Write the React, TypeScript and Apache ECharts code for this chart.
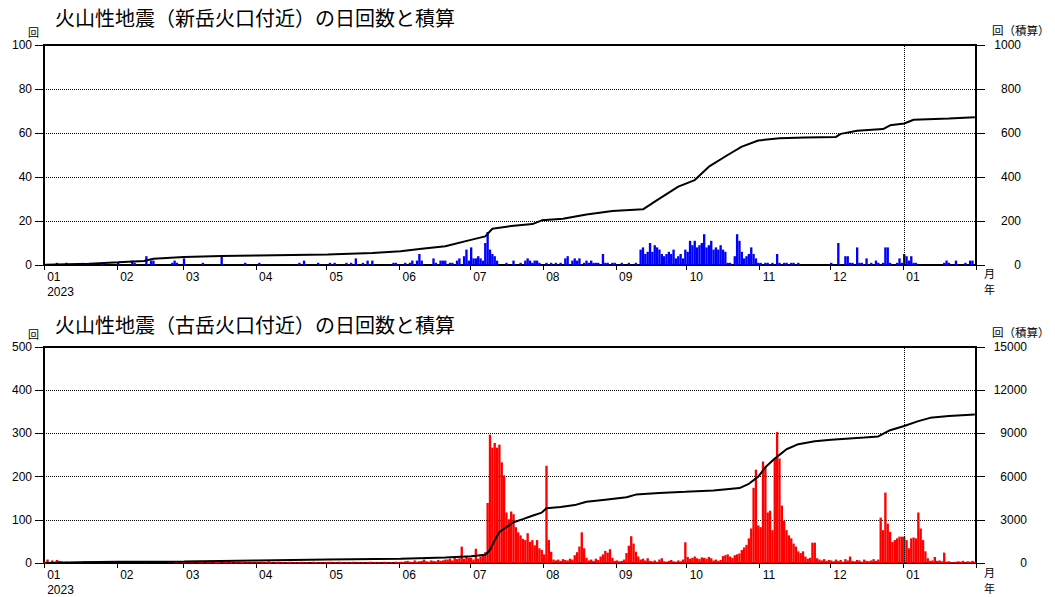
import React, { useEffect, useRef } from "react";
import * as echarts from "echarts";

// ---- categories (daily, 2023-01-01 .. 2024-01-31) ----
const startDay = Date.UTC(2023, 0, 1);
const dayCount = 396;
const dates: string[] = [];
for (let i = 0; i < dayCount; i++) {
  dates.push(new Date(startDay + i * 86400000).toISOString().slice(0, 10));
}

const titleShin = "火山性地震（新岳火口付近）の日回数と積算";
const titleFuru = "火山性地震（古岳火口付近）の日回数と積算";

// ---- 新岳火口付近 daily counts ----
const shinJan23 = [0,0,0,0,0,1,0,0,0,1, 0,0,0,0,0,0,1,0,0,1, 0,0,0,0,1,0,0,0,0,0, 0];
const shinFeb23 = [1,0,0,0,0,0,2,1,0,0, 0,0,4,0,2,2,0,0,0,0, 0,0,0,1,2,1,0,0];
const shinMar23 = [3,0,0,0,0,0,0,0,1,0, 0,0,0,0,0,0,4,0,0,0, 0,0,0,0,0,0,1,0,0,0, 0];
const shinApr23 = [0,1,0,0,0,0,0,0,0,0, 0,0,0,0,0,0,0,0,1,0, 2,0,0,0,0,0,1,0,0,0];
const shinMay23 = [0,1,0,1,0,0,0,0,1,0, 1,0,3,0,0,1,0,2,0,2, 0,0,0,0,0,0,0,0,1,1, 0];
const shinJun23 = [0,0,1,0,1,2,0,2,5,2, 0,0,0,0,3,1,0,2,2,2, 0,1,1,0,2,3,0,4,7,2];
const shinJul23 = [8,3,3,4,3,2,10,15,7,5, 4,2,0,0,0,1,0,0,2,0, 0,1,0,2,3,2,1,2,2,1, 0];
const shinAug23 = [0,1,0,1,0,1,0,1,0,3, 4,0,2,3,2,3,0,1,2,1, 2,1,1,1,0,5,1,1,0,1, 1];
const shinSep23 = [0,0,1,0,0,1,0,0,1,0, 7,8,5,6,10,6,9,8,7,5, 4,5,6,5,7,3,4,5,3,7];
const shinOct23 = [6,11,9,11,8,9,10,14,8,9, 11,7,8,7,9,7,6,1,1,0, 4,14,11,6,3,4,5,8,5,3, 1];
const shinNov23 = [1,0,1,1,0,1,0,5,1,0, 1,1,0,1,1,0,1,0,0,0, 0,0,0,0,0,0,0,0,0,0];
const shinDec23 = [1,0,0,10,0,0,4,4,1,1, 0,8,1,1,0,3,0,1,0,2, 1,0,1,8,8,1,0,0,1,3, 1];
const shinJan24 = [5,4,2,4,1,1,0,0,0,0, 0,0,0,0,0,0,0,1,2,1, 0,0,2,0,0,0,1,0,2,2, 0];

// ---- 新岳 cumulative ----
const shinCumulative: [string, number][] = [
  ["2023-01-01", 1], ["2023-01-20", 6], ["2023-02-01", 12], ["2023-02-12", 18], ["2023-02-16", 28],
  ["2023-03-01", 36], ["2023-03-17", 41], ["2023-04-01", 43], ["2023-05-01", 48], ["2023-05-20", 55],
  ["2023-06-01", 62], ["2023-06-10", 74], ["2023-06-20", 85], ["2023-06-30", 112], ["2023-07-07", 130],
  ["2023-07-10", 165], ["2023-07-18", 177], ["2023-07-27", 186], ["2023-07-31", 203], ["2023-08-09", 210],
  ["2023-08-19", 230], ["2023-08-30", 245], ["2023-09-12", 253], ["2023-09-18", 295], ["2023-09-27", 356],
  ["2023-10-04", 386], ["2023-10-10", 447], ["2023-10-18", 500], ["2023-10-24", 538], ["2023-10-31", 566],
  ["2023-11-09", 576], ["2023-11-20", 580], ["2023-12-03", 582], ["2023-12-05", 596], ["2023-12-12", 610],
  ["2023-12-23", 618], ["2023-12-26", 635], ["2024-01-01", 643], ["2024-01-05", 660], ["2024-01-20", 666],
  ["2024-01-31", 672],
];

// ---- 古岳火口付近 daily counts ----
const furuJan23 = [3,8,2,6,3,7,5,4,2,3, 0,1,2,0,1,0,0,4,0,3, 0,0,1,0,0,0,0,1,0,0, 0];
const furuFeb23 = [0,1,0,0,0,0,0,0,0,0, 0,1,0,0,0,0,0,0,0,0, 0,0,1,0,2,3,1,2];
const furuMar23 = [3,2,1,2,3,1,2,3,2,1, 3,2,1,2,3,2,1,2,2,1, 3,1,2,1,2,3,1,2,1,2, 1];
const furuApr23 = [2,1,3,1,2,4,2,1,2,3, 1,2,1,2,3,1,2,1,2,3, 1,2,1,1,3,2,1,2,1,2];
const furuMay23 = [2,3,1,2,1,3,2,1,2,1, 2,3,1,2,1,2,1,2,3,1, 2,1,2,1,3,2,1,2,1,3, 2];
const furuJun23 = [3,2,4,5,3,2,6,3,4,5, 8,4,3,6,5,4,7,5,6,8, 8,10,6,12,9,11,38,10,14,12];
const furuJul23 = [12,8,33,10,15,18,25,139,297,267, 278,267,274,233,203,117,101,119,113,83, 71,64,56,53,69,49,53,41,53,34, 30];
const furuAug23 = [20,225,53,26,8,6,8,5,9,7, 6,10,8,18,25,38,71,34,12,6, 8,5,10,7,15,20,28,24,32,12, 5];
const furuSep23 = [6,4,5,8,23,40,62,45,26,15, 8,10,6,11,5,4,6,3,8,11, 4,3,5,7,4,3,6,4,8,48];
const furuOct23 = [14,10,12,15,11,9,13,12,10,14, 11,6,8,5,7,16,18,20,15,12, 18,20,22,30,36,42,57,80,174,216, 87];
const furuNov23 = [83,235,223,117,121,76,242,303,242,133, 98,76,64,57,45,38,27,23,27,15, 10,12,47,47,11,8,6,9,5,7];
const furuDec23 = [6,4,8,5,7,3,9,6,15,5, 4,7,6,3,8,5,4,6,9,5, 8,105,76,163,91,72,49,53,57,61, 61];
const furuJan24 = [61,53,34,57,59,57,117,80,53,27, 11,5,6,14,5,6,4,24,3,4, 2,2,3,4,3,5,2,4,3,5, 3];

// ---- 古岳 cumulative ----
const furuCumulative: [string, number][] = [
  ["2023-01-01", 0], ["2023-01-15", 60], ["2023-02-01", 80], ["2023-03-01", 100], ["2023-04-01", 170],
  ["2023-05-01", 240], ["2023-06-01", 300], ["2023-06-20", 390], ["2023-07-01", 470], ["2023-07-07", 565],
  ["2023-07-09", 900], ["2023-07-11", 1580], ["2023-07-13", 2150], ["2023-07-16", 2490], ["2023-07-19", 2830],
  ["2023-07-23", 3050], ["2023-07-27", 3280], ["2023-07-31", 3500], ["2023-08-02", 3800], ["2023-08-08", 3890],
  ["2023-08-14", 4020], ["2023-08-19", 4250], ["2023-08-27", 4400], ["2023-09-05", 4570], ["2023-09-09", 4750],
  ["2023-09-19", 4860], ["2023-09-30", 4940], ["2023-10-12", 5030], ["2023-10-23", 5200], ["2023-10-27", 5500],
  ["2023-10-31", 6000], ["2023-11-03", 6650], ["2023-11-07", 7250], ["2023-11-12", 7900], ["2023-11-17", 8250],
  ["2023-11-24", 8450], ["2023-12-01", 8560], ["2023-12-15", 8720], ["2023-12-21", 8790], ["2023-12-26", 9220],
  ["2024-01-01", 9510], ["2024-01-07", 9850], ["2024-01-12", 10080], ["2024-01-20", 10200], ["2024-01-31", 10320],
];

const shinDaily = [
  ...shinJan23, ...shinFeb23, ...shinMar23, ...shinApr23, ...shinMay23, ...shinJun23, ...shinJul23,
  ...shinAug23, ...shinSep23, ...shinOct23, ...shinNov23, ...shinDec23, ...shinJan24,
];
const furuDaily = [
  ...furuJan23, ...furuFeb23, ...furuMar23, ...furuApr23, ...furuMay23, ...furuJun23, ...furuJul23,
  ...furuAug23, ...furuSep23, ...furuOct23, ...furuNov23, ...furuDec23, ...furuJan24,
];

const numFont = "'Liberation Sans', Arial, sans-serif";
const cjkFont = "'Noto Sans CJK JP', sans-serif";

const isMonthStart = (_i: number, v: string) => v.slice(8, 10) === "01";

function makeXAxis(gridIndex: number) {
  return {
    gridIndex,
    type: "category",
    data: dates,
    boundaryGap: true,
    axisLine: { show: true, lineStyle: { color: "#000", width: 2 } },
    axisTick: { show: true, interval: isMonthStart, length: 5, lineStyle: { color: "#000", width: 1 } },
    axisLabel: {
      interval: isMonthStart,
      formatter: (v: string) => v.slice(5, 7) + (v === "2023-01-01" ? "\n2023" : ""),
      align: "left",
      margin: 4,
      padding: [0, 0, 0, 2],
      color: "#000",
      fontSize: 12,
      lineHeight: 15,
      fontFamily: numFont,
    },
    splitLine: { show: false },
  };
}

function makeYAxes(gridIndex: number, max: number, interval: number, max2: number, interval2: number, rightMargin: number) {
  return [
    {
      gridIndex,
      type: "value",
      position: "left",
      min: 0,
      max,
      interval,
      axisLine: { show: true, lineStyle: { color: "#000", width: 2 } },
      axisTick: { show: true, length: 9, lineStyle: { color: "#000", width: 1 } },
      axisLabel: { color: "#000", fontSize: 12, margin: 12, fontFamily: numFont, formatter: (v: number) => String(v) },
      splitLine: { show: true, lineStyle: { color: "#000", type: "dotted", width: 1 } },
    },
    {
      gridIndex,
      type: "value",
      position: "right",
      min: 0,
      max: max2,
      interval: interval2,
      axisLine: { show: true, lineStyle: { color: "#000", width: 2 } },
      axisTick: { show: true, length: 9, lineStyle: { color: "#000", width: 1 } },
      axisLabel: {
        color: "#000",
        fontSize: 12,
        margin: rightMargin,
        align: "right",
        fontFamily: numFont,
        formatter: (v: number) => String(v),
      },
      splitLine: { show: false },
    },
  ];
}

function cumData(list: [string, number][]) {
  return list.map(([d, v]) => [dates.indexOf(d), v]);
}

const yearLine = {
  silent: true,
  symbol: "none",
  label: { show: false },
  lineStyle: { color: "#000", type: "dotted", width: 1 },
  data: [{ xAxis: dates.indexOf("2024-01-01") }],
};

function text(left: number, top: number, t: string, fontSize: number) {
  return {
    type: "text",
    left,
    top,
    style: { text: t, fontSize, fill: "#000", fontFamily: cjkFont },
  };
}

export default function App() {
  const ref = useRef<HTMLDivElement>(null);
  useEffect(() => {
    if (!ref.current) return;
    const chart = echarts.init(ref.current, undefined, { renderer: "svg" });
    chart.setOption({
      animation: false,
      backgroundColor: "#fff",
      grid: [
        { left: 44, top: 45, width: 932, height: 220, show: true, borderColor: "#000", borderWidth: 2 },
        { left: 44, top: 347, width: 932, height: 221, show: true, borderColor: "#000", borderWidth: 2 },
      ],
      xAxis: [makeXAxis(0), makeXAxis(1)],
      yAxis: [...makeYAxes(0, 100, 20, 1000, 200, 45), ...makeYAxes(1, 500, 100, 15000, 3000, 51)],
      graphic: [
        text(55, 7, titleShin, 20),
        text(28, 26, "回", 11),
        text(992, 24, "回（積算）", 11.5),
        text(984, 267, "月", 11),
        text(984, 283, "年", 11),
        text(55, 314, titleFuru, 20),
        text(28, 328, "回", 11),
        text(992, 326, "回（積算）", 11.5),
        text(984, 566, "月", 11),
        text(984, 582, "年", 11),
      ],
      series: [
        {
          type: "bar",
          xAxisIndex: 0,
          yAxisIndex: 0,
          data: shinDaily,
          barWidth: "100%",
          itemStyle: { color: "#0000ff" },
          markLine: yearLine,
          z: 2,
        },
        {
          type: "line",
          xAxisIndex: 0,
          yAxisIndex: 1,
          data: cumData(shinCumulative),
          symbol: "none",
          showSymbol: false,
          lineStyle: { color: "#000", width: 2 },
          z: 5,
        },
        {
          type: "bar",
          xAxisIndex: 1,
          yAxisIndex: 2,
          data: furuDaily,
          barWidth: "100%",
          itemStyle: { color: "#ff0000" },
          markLine: yearLine,
          z: 2,
        },
        {
          type: "line",
          xAxisIndex: 1,
          yAxisIndex: 3,
          data: cumData(furuCumulative),
          symbol: "none",
          showSymbol: false,
          lineStyle: { color: "#000", width: 2 },
          z: 5,
        },
      ],
    });
    return () => chart.dispose();
  }, []);
  return (
    <div
      ref={ref}
      style={{ position: "fixed", left: 0, top: 0, width: 1055, height: 597, background: "#fff" }}
    />
  );
}
